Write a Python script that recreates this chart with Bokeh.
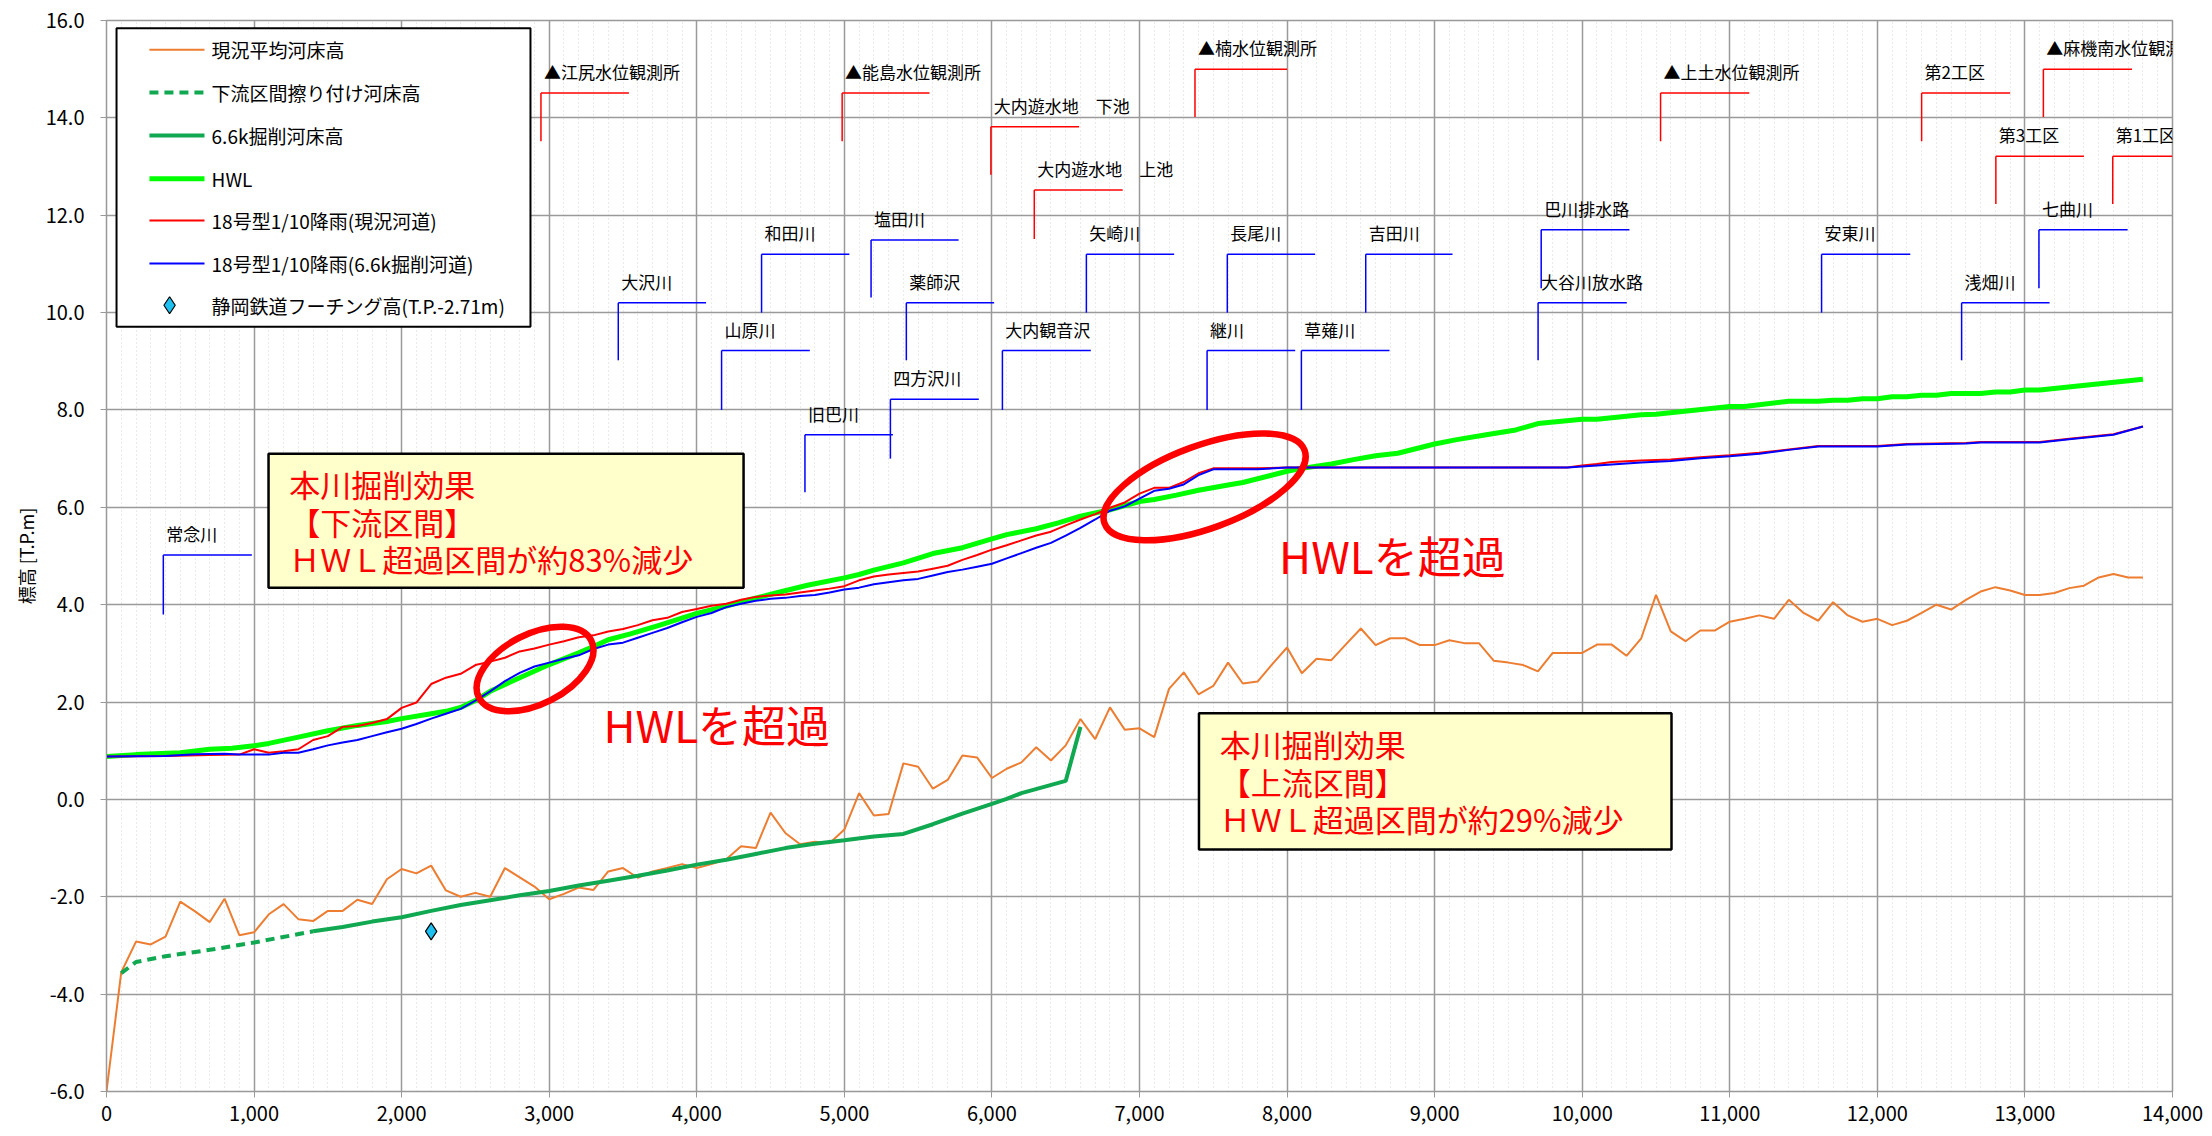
import numpy as np
from bokeh.plotting import figure
from bokeh.models import Range1d, SingleIntervalTicker, NumeralTickFormatter
from bokeh.core.properties import value
from bokeh.embed import file_html
from bokeh.resources import INLINE

FONT = "Noto Sans CJK JP"

# ---- 縦断データ ------------------------------------------------------------
# 距離標 (m) : 現況平均河床高は100m毎
bed_x = list(range(0, 13900, 100))
bed_now = [
    -6.00, -3.55, -2.92, -2.98, -2.82, -2.10, -2.30, -2.52, -2.04, -2.79,   # 0-900
    -2.73, -2.36, -2.15, -2.46, -2.50, -2.29, -2.29, -2.06, -2.15, -1.64,   # 1000-1900
    -1.43, -1.52, -1.36, -1.87, -2.00, -1.92, -2.00, -1.41, -1.60, -1.79,   # 2000-2900
    -2.05, -1.94, -1.81, -1.86, -1.48, -1.41, -1.61, -1.48, -1.41, -1.33,   # 3000-3900
    -1.41, -1.33, -1.23, -0.96, -1.00, -0.27, -0.69, -0.92, -0.87, -0.90,   # 4000-4900
    -0.62, 0.13, -0.33, -0.30, 0.74, 0.67, 0.22, 0.40, 0.90, 0.86,          # 5000-5900
    0.44, 0.63, 0.76, 1.07, 0.80, 1.11, 1.65, 1.24, 1.89, 1.43,             # 6000-6900
    1.46, 1.28, 2.27, 2.61, 2.16, 2.33, 2.81, 2.38, 2.42, 2.78,             # 7000-7900
    3.12, 2.59, 2.89, 2.86, 3.19, 3.51, 3.17, 3.31, 3.31, 3.17,             # 8000-8900
    3.17, 3.27, 3.21, 3.21, 2.85, 2.81, 2.76, 2.63, 3.01, 3.01,             # 9000-9900
    3.01, 3.18, 3.18, 2.95, 3.31, 4.20, 3.45, 3.25, 3.47, 3.47,             # 10000-10900
    3.65, 3.71, 3.78, 3.71, 4.10, 3.83, 3.67, 4.05, 3.78, 3.65,             # 11000-11900
    3.71, 3.58, 3.67, 3.83, 4.00, 3.90, 4.10, 4.27, 4.36, 4.29,             # 12000-12900
    4.20, 4.20, 4.24, 4.34, 4.39, 4.56, 4.63, 4.56, 4.56,                   # 13000-13800
]

# 下流区間擦り付け河床高
fill_x = [100, 200, 400, 700, 1000, 1400]
fill_y = [-3.57, -3.34, -3.22, -3.09, -2.94, -2.71]

# 6.6k掘削河床高
exc_x = [1400, 1600, 1800, 2000, 2200, 2400, 2600, 2800, 3000, 3200,
         3400, 3600, 3800, 4000, 4200, 4400, 4600, 4800, 5000, 5200,
         5400, 5600, 5800, 6000, 6100, 6200, 6500, 6600]
exc_y = [-2.71, -2.62, -2.51, -2.42, -2.29, -2.17, -2.07, -1.97, -1.88, -1.77,
         -1.67, -1.57, -1.46, -1.34, -1.24, -1.12, -1.00, -0.91, -0.84, -0.76,
         -0.71, -0.51, -0.29, -0.09, 0.01, 0.13, 0.38, 1.49]

# HWL
hwl_x = [0, 200, 500, 700, 850, 1000, 1100, 1300, 1500, 1700,
         1900, 2000, 2200, 2300, 2400, 2500, 2600, 2800, 3000, 3200,
         3300, 3400, 3550, 3750, 4000, 4200, 4350, 4550, 4750, 5000,
         5100, 5200, 5400, 5600, 5800, 6000, 6100, 6300, 6450, 6600,
         6800, 7000, 7100, 7250, 7400, 7600, 7700, 8000, 8100, 8300,
         8450, 8600, 8750, 9000, 9150, 9350, 9550, 9700, 10000, 10100,
         10400, 10500, 11000, 11100, 11400, 11600, 11700, 11800, 11900, 12000,
         12100, 12200, 12300, 12400, 12500, 12700, 12800, 12900, 13000, 13100,
         13800]
hwl_y = [0.88, 0.92, 0.96, 1.03, 1.05, 1.10, 1.15, 1.28, 1.41, 1.52,
         1.60, 1.66, 1.76, 1.81, 1.89, 2.03, 2.22, 2.50, 2.77, 3.01,
         3.14, 3.28, 3.40, 3.58, 3.82, 3.97, 4.10, 4.25, 4.40, 4.55,
         4.62, 4.71, 4.86, 5.05, 5.17, 5.35, 5.44, 5.56, 5.68, 5.82,
         5.95, 6.12, 6.16, 6.25, 6.35, 6.46, 6.51, 6.74, 6.80, 6.89,
         6.98, 7.06, 7.11, 7.30, 7.39, 7.49, 7.59, 7.72, 7.81, 7.81,
         7.90, 7.91, 8.07, 8.07, 8.18, 8.18, 8.20, 8.20, 8.23, 8.23,
         8.27, 8.27, 8.30, 8.30, 8.34, 8.34, 8.37, 8.37, 8.41, 8.41,
         8.63]

# 18号型1/10降雨（現況河道）
wl_now_x = [0, 400, 700, 900, 1000, 1100, 1200, 1300, 1400, 1500,
            1600, 1700, 1800, 1900, 2000, 2100, 2200, 2300, 2400, 2500,
            2600, 2700, 2800, 2900, 3000, 3100, 3200, 3300, 3400, 3500,
            3600, 3700, 3800, 3900, 4000, 4100, 4200, 4300, 4400, 4500,
            4600, 4700, 4800, 4900, 5000, 5100, 5200, 5300, 5400, 5500,
            5600, 5700, 5800, 5900, 6000, 6100, 6200, 6300, 6400, 6500,
            6600, 6700, 6800, 6900, 7000, 7100, 7200, 7300, 7400, 7500,
            7800, 8000, 9900, 10000, 10100, 10200, 10400, 10600, 10800, 11000,
            11200, 11400, 11600, 12000, 12200, 12600, 12700, 13100, 13300, 13600,
            13800]
wl_now_y = [0.88, 0.89, 0.91, 0.92, 1.03, 0.96, 0.99, 1.03, 1.22, 1.30,
            1.49, 1.51, 1.57, 1.65, 1.88, 1.99, 2.37, 2.50, 2.58, 2.76,
            2.83, 2.91, 3.04, 3.10, 3.18, 3.25, 3.33, 3.37, 3.45, 3.50,
            3.58, 3.68, 3.73, 3.85, 3.91, 3.98, 4.02, 4.10, 4.16, 4.19,
            4.21, 4.25, 4.29, 4.33, 4.38, 4.50, 4.58, 4.62, 4.65, 4.68,
            4.74, 4.80, 4.92, 5.02, 5.13, 5.22, 5.32, 5.42, 5.50, 5.63,
            5.75, 5.86, 5.99, 6.10, 6.28, 6.40, 6.40, 6.52, 6.70, 6.80,
            6.80, 6.82, 6.82, 6.86, 6.89, 6.93, 6.96, 6.98, 7.03, 7.07,
            7.12, 7.19, 7.26, 7.26, 7.30, 7.32, 7.34, 7.34, 7.41, 7.50,
            7.66]

# 18号型1/10降雨（6.6k掘削河道）
wl_exc_x = [0, 400, 600, 800, 900, 1100, 1200, 1300, 1400, 1500,
            1600, 1700, 1800, 1900, 2000, 2100, 2200, 2300, 2400, 2500,
            2600, 2700, 2800, 2900, 3000, 3100, 3200, 3300, 3400, 3500,
            3600, 3700, 3800, 3900, 4000, 4100, 4200, 4300, 4400, 4500,
            4600, 4700, 4800, 4900, 5000, 5100, 5200, 5300, 5400, 5500,
            5600, 5700, 5800, 5900, 6000, 6100, 6200, 6300, 6400, 6500,
            6600, 6700, 6800, 6900, 7000, 7100, 7200, 7300, 7400, 7500,
            7800, 8000, 9900, 10000, 10200, 10400, 10600, 10800, 11000, 11200,
            11400, 11600, 12000, 12200, 12600, 12700, 13100, 13300, 13600, 13800]
wl_exc_y = [0.88, 0.89, 0.93, 0.94, 0.92, 0.92, 0.96, 0.96, 1.03, 1.11,
            1.17, 1.22, 1.30, 1.38, 1.45, 1.55, 1.66, 1.76, 1.86, 2.03,
            2.22, 2.43, 2.60, 2.73, 2.81, 2.89, 2.96, 3.09, 3.18, 3.22,
            3.32, 3.42, 3.52, 3.64, 3.75, 3.83, 3.95, 4.02, 4.08, 4.12,
            4.14, 4.18, 4.20, 4.25, 4.31, 4.35, 4.42, 4.46, 4.50, 4.53,
            4.60, 4.67, 4.72, 4.78, 4.84, 4.95, 5.06, 5.17, 5.27, 5.42,
            5.58, 5.75, 5.93, 6.02, 6.18, 6.34, 6.38, 6.47, 6.66, 6.78,
            6.78, 6.82, 6.82, 6.84, 6.88, 6.92, 6.95, 7.01, 7.05, 7.10,
            7.18, 7.25, 7.25, 7.29, 7.31, 7.33, 7.33, 7.40, 7.49, 7.66]

# 静岡鉄道フーチング高
footing_x = [2200]
footing_y = [-2.71]

# ---- 施設・支川の位置 ------------------------------------------------------
stn_names = ["▲江尻水位観測所", "▲能島水位観測所", "大内遊水地　下池", "大内遊水地　上池",
             "▲楠水位観測所", "▲上土水位観測所", "第2工区", "▲麻機南水位観測所",
             "第3工区", "第1工区"]
stn_x = [2944, 4985, 5993, 6287, 7376, 10531, 12300, 13125, 12803, 13595]
stn_end = [3540, 5577, 6591, 6886, 8000, 11132, 12900, 13726, 13400, 14000]
stn_lo = [13.52, 13.52, 12.83, 11.51, 14.02, 13.52, 13.52, 14.02, 12.23, 12.23]
stn_hi = [14.51, 14.51, 13.82, 12.52, 15.00, 14.51, 14.51, 15.00, 13.21, 13.21]

trib_names = ["常念川", "大沢川", "山原川", "和田川", "塩田川", "薬師沢", "四方沢川", "旧巴川",
              "大内観音沢", "矢崎川", "長尾川", "継川", "草薙川", "吉田川", "巴川排水路",
              "大谷川放水路", "安東川", "浅畑川", "七曲川"]
trib_x = [385, 3468, 4168, 4439, 5181, 5420, 5312, 4733,
          6071, 6640, 7595, 7458, 8097, 8533, 9722,
          9701, 11622, 12571, 13095]
trib_end = [985, 4063, 4766, 5034, 5774, 6015, 5911, 5329,
            6670, 7235, 8190, 8055, 8694, 9121, 10320,
            10302, 12223, 13167, 13696]
trib_lo = [3.80, 9.02, 8.00, 10.00, 10.31, 9.02, 7.00, 6.31,
           8.00, 10.00, 10.00, 8.00, 8.00, 10.00, 10.50,
           9.02, 10.00, 9.02, 10.50]
trib_hi = [5.02, 10.20, 9.22, 11.20, 11.49, 10.20, 8.22, 7.49,
           9.22, 11.20, 11.20, 9.22, 9.22, 11.20, 11.70,
           10.20, 11.20, 10.20, 11.70]

# ---- 色・線種 --------------------------------------------------------------
C_BED = "#ED7D31"
C_EXC = "#10A850"
C_HWL = "#00FF00"
C_NOW = "#FF0000"
C_CUT = "#0000FF"
C_FOOT = "#1EC0F0"

p = figure(width=2212, height=1136, output_backend="svg", toolbar_location=None,
           x_range=Range1d(0, 14000), y_range=Range1d(-6, 16),
           min_border_left=106, min_border_right=40, min_border_top=20,
           min_border_bottom=45, background_fill_color="white")

p.xaxis.ticker = SingleIntervalTicker(interval=1000, num_minor_ticks=10)
p.yaxis.ticker = SingleIntervalTicker(interval=2, num_minor_ticks=0)
p.xaxis.formatter = NumeralTickFormatter(format="0,0")
p.yaxis.formatter = NumeralTickFormatter(format="0.0")
for ax in (p.xaxis, p.yaxis):
    ax.major_label_text_font = FONT
    ax.major_label_text_font_size = "20px"
    ax.major_label_text_color = "black"
    ax.axis_line_color = "#999999"
    ax.major_tick_line_color = "#999999"
    ax.major_tick_out = 6
    ax.major_tick_in = 0
    ax.minor_tick_line_color = None
p.yaxis.major_label_standoff = 16
p.xaxis.major_label_standoff = 8

# 標高軸タイトル
p.yaxis.axis_label = "標高 [T.P.m]"
p.yaxis.axis_label_text_font = FONT
p.yaxis.axis_label_text_font_size = "18px"
p.yaxis.axis_label_text_font_style = "normal"
p.yaxis.axis_label_text_color = "black"
p.yaxis.axis_label_standoff = 4

p.xgrid.grid_line_color = "#9a9a9a"
p.xgrid.grid_line_width = 1.5
p.xgrid.minor_grid_line_color = "#d6d6d6"
p.xgrid.minor_grid_line_dash = "1 3"
p.ygrid.grid_line_color = "#9a9a9a"
p.ygrid.grid_line_width = 1.5
p.outline_line_color = "#999999"
p.outline_line_width = 1.5

# ---- 施設・支川の引出線 -----------------------------------------------------
p.segment(x0=stn_x, y0=stn_lo, x1=stn_x, y1=stn_hi, line_color="red", line_width=1.5)
p.segment(x0=stn_x, y0=stn_hi, x1=stn_end, y1=stn_hi, line_color="red", line_width=1.5)
p.text(x=[v + 20 for v in stn_x], y=[v + 0.44 for v in stn_hi], text=stn_names,
       text_font=value(FONT), text_font_size="17px", text_baseline="middle",
       text_align="left", text_color="black")

p.segment(x0=trib_x, y0=trib_lo, x1=trib_x, y1=trib_hi, line_color="blue", line_width=1.5)
p.segment(x0=trib_x, y0=trib_hi, x1=trib_end, y1=trib_hi, line_color="blue", line_width=1.5)
p.text(x=[v + 20 for v in trib_x], y=[v + 0.44 for v in trib_hi], text=trib_names,
       text_font=value(FONT), text_font_size="17px", text_baseline="middle",
       text_align="left", text_color="black")

# ---- 河床高・水位 ----------------------------------------------------------
p.line(bed_x, bed_now, line_color=C_BED, line_width=2)
p.line(fill_x, fill_y, line_color=C_EXC, line_width=4, line_dash="9 6")
p.line(exc_x, exc_y, line_color=C_EXC, line_width=4)
p.line(hwl_x, hwl_y, line_color=C_HWL, line_width=5)
p.line(wl_now_x, wl_now_y, line_color=C_NOW, line_width=2)
p.line(wl_exc_x, wl_exc_y, line_color=C_CUT, line_width=2)
p.scatter(footing_x, footing_y, marker="diamond", size=17, fill_color=C_FOOT,
          line_color="black", line_width=1.2)

# ---- 掘削効果の注記 ---------------------------------------------------------
p.ellipse(x=[2904, 7441], y=[2.68, 6.42], width=[126, 213], height=[70, 83],
          angle=[0.47, 0.35], width_units="screen", height_units="screen",
          fill_alpha=0, line_color="red", line_width=6.5)

p.text(x=[3368, 7946], y=[1.55, 5.02], text=["HWLを超過", "HWLを超過"],
       text_font=value(FONT), text_font_size="44px", text_baseline="middle",
       text_align="left", text_color="red")

box_left = [1098, 7403]
box_right = [4317, 10605]
box_top = [7.10, 1.77]
box_bottom = [4.35, -1.03]
p.quad(left=box_left, right=box_right, top=box_top, bottom=box_bottom,
       fill_color="#FFFFCC", line_color="black", line_width=2.5)

box_lines = [["本川掘削効果", "【下流区間】", "ＨＷＬ超過区間が約83%減少"],
             ["本川掘削効果", "【上流区間】", "ＨＷＬ超過区間が約29%減少"]]
tx, ty, tt = [], [], []
for left, top, lines in zip(box_left, box_top, box_lines):
    for k, s in enumerate(lines):
        tx.append(left + 140)
        ty.append(top - [0.62, 1.40, 2.16][k])
        tt.append(s)
p.text(x=tx, y=ty, text=tt, text_font=value(FONT), text_font_size="31px",
       text_baseline="middle", text_align="left", text_color="red")

# ---- 凡例 ------------------------------------------------------------------
leg_names = ["現況平均河床高", "下流区間擦り付け河床高", "6.6k掘削河床高", "HWL",
             "18号型1/10降雨(現況河道)", "18号型1/10降雨(6.6k掘削河道)",
             "静岡鉄道フーチング高(T.P.-2.71m)"]
leg_rows = [15.40, 14.52, 13.64, 12.75, 11.89, 11.01, 10.15]
p.quad(left=[68], right=[2873], top=[15.84], bottom=[9.71],
       fill_color="white", line_color="black", line_width=2)
sx0, sx1 = 291, 664
styles = [(C_BED, 2, "solid"), (C_EXC, 4, "9 6"), (C_EXC, 4, "solid"),
          (C_HWL, 5, "solid"), (C_NOW, 2, "solid"), (C_CUT, 2, "solid")]
for (col, w, dash), yy in zip(styles, leg_rows[:6]):
    p.line([sx0, sx1], [yy, yy], line_color=col, line_width=w, line_dash=dash)
p.scatter([(sx0 + sx1) / 2 - 50], [leg_rows[6]], marker="diamond", size=17,
          fill_color=C_FOOT, line_color="black", line_width=1.2)
p.text(x=[712] * 7, y=leg_rows, text=leg_names, text_font=value(FONT),
       text_font_size="19px", text_baseline="middle", text_align="left",
       text_color="black")

open("out.html", "w").write(file_html(p, INLINE))
